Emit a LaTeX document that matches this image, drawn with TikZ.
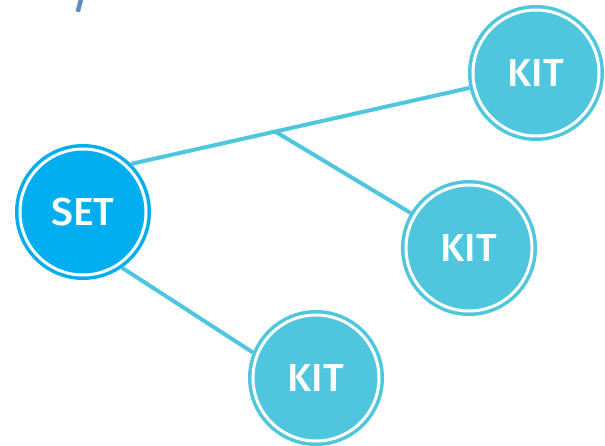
\documentclass[tikz,border=0pt]{standalone}
\usepackage{fontspec}
\setmainfont{Fira Sans}
\newfontfamily\labelfont{Fira Sans}[UprightFont={* Medium}]
\usepackage{tikz}
\usetikzlibrary{calc}

\definecolor{setblue}{HTML}{00AEEF}
\definecolor{kitblue}{HTML}{4FC6DD}
\definecolor{titlegrey}{HTML}{5B8DB8}

\begin{document}
\begin{tikzpicture}[
  x=1pt,
  y=-1pt
]

  \path[use as bounding box] (0,0) rectangle (605,445);

  \tikzstyle{setnode}=[circle,fill=setblue,draw=white,line width=3pt,preaction={draw=setblue,line width=10pt},minimum size=126pt,inner sep=0pt,outer sep=5pt,text=white,font=\fontsize{39}{39}\selectfont\labelfont]
  \tikzstyle{kitnode}=[circle,fill=kitblue,draw=white,line width=3pt,preaction={draw=kitblue,line width=10pt},minimum size=126pt,inner sep=0pt,outer sep=5pt,text=white,font=\fontsize{39}{39}\selectfont\labelfont]

  \tikzstyle{link}=[draw=kitblue,line width=4pt]
  \tikzstyle{titletext}=[text=titlegrey,font=\fontsize{40}{40}\selectfont\labelfont,inner sep=0pt]

  % title (cut off at the top)
  \node[titletext,anchor=base] (slash) at (83,8) {/};

  % nodes
  \node[setnode] (set) at (83,212) {SET};
  \node[kitnode] (kit1) at (536,73) {KIT};
  \node[kitnode] (kit2) at (469,248) {KIT};
  \node[kitnode] (kit3) at (316,378) {KIT};

  \coordinate (fork) at ($(set.45)!0.356!(kit1.center)$);

  % links
  \draw[link] (set.45) -- (kit1);
  \draw[link] (fork) -- (kit2);
  \draw[link] (set.-55) -- (kit3.158);

\end{tikzpicture}
\end{document}
